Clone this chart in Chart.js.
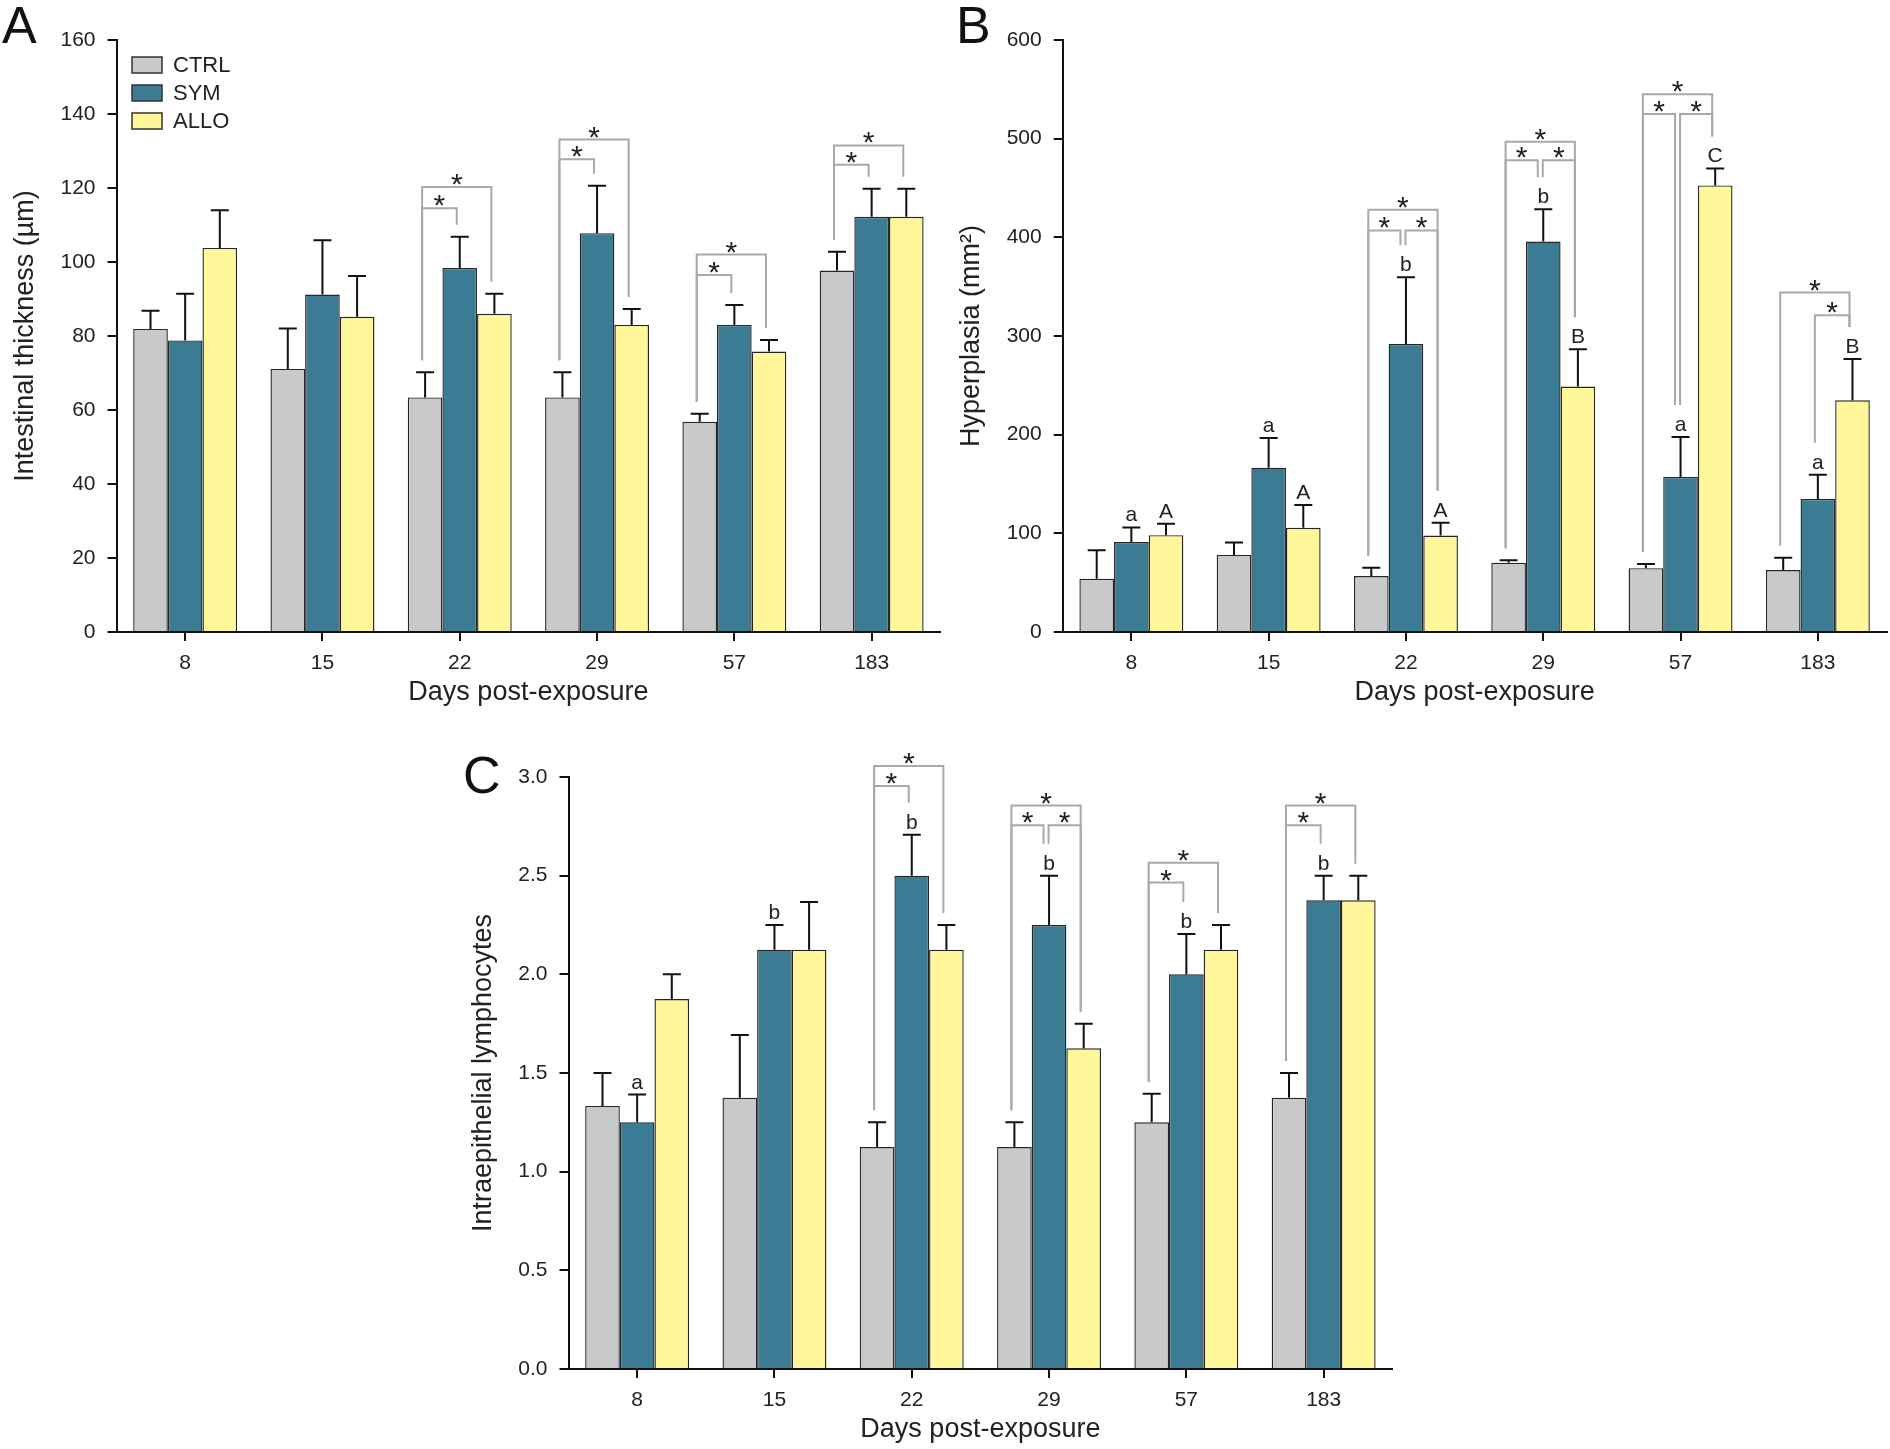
<!DOCTYPE html>
<html>
<head>
<meta charset="utf-8">
<script src="https://cdn.jsdelivr.net/npm/chart.js@4.4.1/dist/chart.umd.min.js"></script>
<style>
  html, body { margin: 0; padding: 0; background: #fff; }
  body { width: 1890px; height: 1449px; position: relative; overflow: hidden; }
  canvas { position: absolute; }
</style>
</head>
<body>
<canvas id="chartA" width="945" height="720" style="left:0;top:0"></canvas>
<canvas id="chartB" width="945" height="720" style="left:945px;top:0"></canvas>
<canvas id="chartC" width="945" height="720" style="left:450px;top:737px"></canvas>
<script>
const days = ['8', '15', '22', '29', '57', '183'];
const groups = ['CTRL', 'SYM', 'ALLO'];
const colors = ['#c8c9cb', '#3c7b94', '#fff799'];

// A - intestinal thickness (µm)
const thickCtrl = [81.9, 71.1, 63.4, 63.4, 56.8, 97.7];
const thickSym = [78.8, 91.2, 98.4, 107.8, 83.0, 112.2];
const thickAllo = [103.8, 85.2, 86.0, 83.0, 75.8, 112.2];
const thickCtrlErr = [4.9, 10.9, 6.8, 6.8, 2.2, 5.1];
const thickSymErr = [12.6, 14.7, 8.4, 12.8, 5.4, 7.6];
const thickAlloErr = [10.2, 11.0, 5.4, 4.3, 3.1, 7.6];
const thickTicks = [0, 20, 40, 60, 80, 100, 120, 140, 160];
// [day index, from group, to group, bracket level]
const thickSig = [[2, 0, 1, 114.5], [2, 0, 2, 120.3], [3, 0, 1, 127.8], [3, 0, 2, 133.1],
  [4, 0, 1, 96.5], [4, 0, 2, 102], [5, 0, 1, 126.3], [5, 0, 2, 131.5]];

// B - hyperplasia (mm2)
const hypCtrl = [54.0, 78.1, 56.7, 70.2, 64.7, 62.8];
const hypSym = [91.2, 166.5, 292.0, 395.8, 157.2, 134.9];
const hypAllo = [98.1, 105.6, 97.7, 248.8, 452.6, 234.9];
const hypCtrlErr = [28.8, 12.6, 8.4, 2.4, 4.1, 12.5];
const hypSymErr = [14.8, 30.2, 67.5, 32.6, 40.5, 24.6];
const hypAlloErr = [11.7, 23.2, 13.0, 37.7, 17.2, 41.8];
const hypSymLetters = ['a', 'a', 'b', 'b', 'a', 'a'];
const hypAlloLetters = ['A', 'A', 'A', 'B', 'C', 'B'];
const hypTicks = [0, 100, 200, 300, 400, 500, 600];
const hypSig = [[2, 0, 1, 407], [2, 1, 2, 407], [2, 0, 2, 428], [3, 0, 1, 478], [3, 1, 2, 478], [3, 0, 2, 497],
  [4, 0, 1, 525], [4, 1, 2, 525], [4, 0, 2, 545], [5, 1, 2, 321], [5, 0, 2, 344]];

// C - intraepithelial lymphocytes
const ielCtrl = [1.333, 1.375, 1.125, 1.125, 1.25, 1.375];
const ielSym = [1.25, 2.125, 2.5, 2.25, 2.0, 2.375];
const ielAllo = [1.875, 2.125, 2.125, 1.625, 2.125, 2.375];
const ielCtrlErr = [0.167, 0.318, 0.125, 0.125, 0.145, 0.125];
const ielSymErr = [0.141, 0.125, 0.207, 0.25, 0.205, 0.125];
const ielAlloErr = [0.125, 0.242, 0.125, 0.125, 0.125, 0.125];
const ielSymLetters = ['a', 'b', 'b', 'b', 'b', 'b'];
const ielTicks = [0, 0.5, 1.0, 1.5, 2.0, 2.5, 3.0];
const ielSig = [[2, 0, 1, 2.955], [2, 0, 2, 3.056], [3, 0, 1, 2.755], [3, 1, 2, 2.755], [3, 0, 2, 2.855],
  [4, 0, 1, 2.465], [4, 0, 2, 2.566], [5, 0, 1, 2.755], [5, 0, 2, 2.855]];

const FONT = "'Liberation Sans', Arial, Helvetica, sans-serif";
Chart.defaults.font.family = FONT;
Chart.defaults.color = '#222';

const extras = {
  chartA: { err: [thickCtrlErr, thickSymErr, thickAlloErr], letters: [null, null, null], sig: thickSig,
    panel: 'A', panelAt: [2, 43], legend: true },
  chartB: { err: [hypCtrlErr, hypSymErr, hypAlloErr], letters: [null, hypSymLetters, hypAlloLetters], sig: hypSig,
    panel: 'B', panelAt: [11, 43] },
  chartC: { err: [ielCtrlErr, ielSymErr, ielAlloErr], letters: [null, ielSymLetters, null], sig: ielSig,
    panel: 'C', panelAt: [13, 56] }
};

const annotPlugin = {
  id: 'annot',
  afterDraw(chart) {
    const cfg = extras[chart.canvas.id];
    const ctx = chart.ctx;
    const ys = chart.scales.y;
    const bar = (c, s) => chart.getDatasetMeta(s).data[c];
    const topPx = (c, s) => ys.getPixelForValue(chart.data.datasets[s].data[c] + cfg.err[s][c]);
    const hasLetter = (c, s) => cfg.letters[s] && cfg.letters[s][c];
    ctx.save();

    // error bars (upper only)
    ctx.strokeStyle = '#111';
    ctx.lineWidth = 2;
    for (let s = 0; s < 3; s++) {
      for (let c = 0; c < days.length; c++) {
        const b = bar(c, s);
        const yt = topPx(c, s);
        ctx.beginPath();
        ctx.moveTo(b.x, b.y);
        ctx.lineTo(b.x, yt);
        ctx.moveTo(b.x - 9, yt);
        ctx.lineTo(b.x + 9, yt);
        ctx.stroke();
      }
    }

    // group letters
    ctx.fillStyle = '#222';
    ctx.font = '21px ' + FONT;
    ctx.textAlign = 'center';
    ctx.textBaseline = 'alphabetic';
    for (let s = 0; s < 3; s++) {
      if (!cfg.letters[s]) continue;
      cfg.letters[s].forEach((t, c) => {
        if (t) ctx.fillText(t, bar(c, s).x, topPx(c, s) - 6);
      });
    }

    // significance brackets
    const legBottom = (c, s) => topPx(c, s) - (hasLetter(c, s) ? 32 : 12);
    ctx.strokeStyle = '#a9a9a9';
    ctx.lineWidth = 2;
    ctx.font = '30px ' + FONT;
    cfg.sig.forEach(([c, i, j, level]) => {
      let xi = bar(c, i).x - 3;
      let xj = bar(c, j).x - 3;
      if (cfg.sig.some(o => o[0] === c && o[2] === i)) xi += 2.5;
      if (cfg.sig.some(o => o[0] === c && o[1] === j)) xj -= 2.5;
      const ly = ys.getPixelForValue(level);
      ctx.beginPath();
      ctx.moveTo(xi, legBottom(c, i));
      ctx.lineTo(xi, ly);
      ctx.lineTo(xj, ly);
      ctx.lineTo(xj, legBottom(c, j));
      ctx.stroke();
      ctx.fillStyle = '#222';
      ctx.fillText('*', (xi + xj) / 2, ly + 7);
    });

    // legend
    if (cfg.legend) {
      ctx.font = '22px ' + FONT;
      ctx.textAlign = 'left';
      ctx.textBaseline = 'middle';
      ctx.lineWidth = 1.5;
      ctx.strokeStyle = '#333';
      chart.data.datasets.forEach((ds, k) => {
        const cy = 65 + k * 28;
        ctx.fillStyle = ds.backgroundColor;
        ctx.fillRect(132, cy - 8, 30, 16);
        ctx.strokeRect(132, cy - 8, 30, 16);
        ctx.fillStyle = '#222';
        ctx.fillText(ds.label, 173, cy + 1);
      });
    }

    // panel letter
    ctx.fillStyle = '#111';
    ctx.font = '52px ' + FONT;
    ctx.textAlign = 'left';
    ctx.textBaseline = 'alphabetic';
    ctx.fillText(cfg.panel, cfg.panelAt[0], cfg.panelAt[1]);
    ctx.restore();
  }
};

function buildChart(id, values, yTicks, yTitle, o) {
  return new Chart(document.getElementById(id), {
    type: 'bar',
    data: {
      labels: days,
      datasets: groups.map((g, s) => ({
        label: g,
        data: values[s],
        backgroundColor: colors[s],
        borderColor: '#262626',
        borderWidth: 1.4,
        categoryPercentage: 0.757,
        barPercentage: 1
      }))
    },
    options: {
      responsive: false,
      animation: false,
      devicePixelRatio: 1,
      layout: { padding: { top: 40, right: o.padRight, bottom: 0, left: 0 } },
      plugins: { legend: { display: false }, tooltip: { enabled: false } },
      scales: {
        x: {
          offset: true,
          grid: { offset: false, drawOnChartArea: false, tickLength: 9, color: '#111', lineWidth: 2 },
          border: { color: '#111', width: 2 },
          ticks: { color: '#222', font: { size: 21 }, padding: 10, maxRotation: 0 },
          title: { display: true, text: 'Days post-exposure', color: '#222', font: { size: 27 },
            padding: { top: 0, bottom: 11 } },
          afterFit: s => { s.height = 88; }
        },
        y: {
          min: yTicks[0],
          max: yTicks[yTicks.length - 1],
          afterBuildTicks: s => { s.ticks = yTicks.map(v => ({ value: v })); },
          grid: { drawOnChartArea: false, tickLength: 9, color: '#111', lineWidth: 2 },
          border: { color: '#111', width: 2 },
          ticks: { color: '#222', font: { size: 21 }, padding: 12, callback: o.fmt },
          title: { display: true, text: yTitle, color: '#222', font: { size: 27 },
            padding: { top: o.yTitlePad, bottom: 0 } },
          afterFit: s => { s.width = o.yWidth; }
        }
      }
    },
    plugins: [annotPlugin]
  });
}

buildChart('chartA', [thickCtrl, thickSym, thickAllo], thickTicks, 'Intestinal thickness (µm)',
  { padRight: 4.7, yWidth: 116.5, yTitlePad: 9, fmt: v => String(v) });
buildChart('chartB', [hypCtrl, hypSym, hypAllo], hypTicks, 'Hyperplasia (mm²)',
  { padRight: 3.5, yWidth: 117.7, yTitlePad: 10, fmt: v => String(v) });
buildChart('chartC', [ielCtrl, ielSym, ielAllo], ielTicks, 'Intraepithelial lymphocytes',
  { padRight: 2.7, yWidth: 118.5, yTitlePad: 17, fmt: v => v.toFixed(1) });
</script>
</body>
</html>
